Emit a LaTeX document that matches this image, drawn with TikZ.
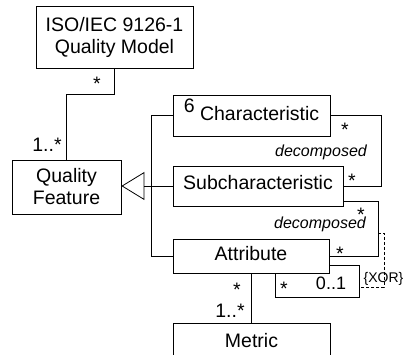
\documentclass[tikz,border=0pt]{standalone}
\usepackage{fontspec}
\setmainfont{Liberation Sans}
\usetikzlibrary{arrows.meta}
\tikzset{
  box/.style={draw, line width=0.8pt, inner sep=0pt, align=center,
    font=\fontsize{19.5}{22}\selectfont},
  mult/.style={anchor=base, inner sep=0pt, font=\fontsize{19.5}{22}\selectfont},
  role/.style={anchor=base, inner sep=0pt, font=\fontsize{16}{18}\selectfont\itshape},
  conn/.style={line width=0.8pt},
  xorline/.style={line width=0.8pt, dash pattern=on 3pt off 2pt}
}
\begin{document}
\begin{tikzpicture}[x=1pt,y=-1pt]
\useasboundingbox (0,0) rectangle (404,355);
% boxes
\node[box, minimum width=157pt, minimum height=62pt] (iso) at (114.5,37) {ISO/IEC 9126-1\\Quality Model};
\node[box, minimum width=109pt, minimum height=54pt] (qf) at (66.5,187) {Quality\\Feature};
\node[box, minimum width=157pt, minimum height=41pt, text height=11pt, text depth=0pt] (char) at (251.5,115.5) {\raisebox{8pt}{6} Characteristic};
\node[box, minimum width=170pt, minimum height=40pt, text height=8pt, text depth=0pt] (sub) at (258,186) {Subcharacteristic};
\node[box, minimum width=156pt, minimum height=34pt, text height=10pt, text depth=0pt] (attr) at (251,256) {Attribute};
\node[box, minimum width=157pt, minimum height=36pt, text height=12pt, text depth=0pt] (metric) at (251.5,341) {Metric};
% connectors
\draw[conn] (iso.south) -- ++(0,26) -| (qf.north);
\draw[conn, -{Triangle[open, length=23pt, width=28pt]}] (sub.west) -- (sub.west -| qf.east);
\draw[conn] (char.west) -- ++(-21,0) |- (attr.west);
\draw[conn] (char.east) -- ++(51,0) |- (sub.east);
\draw[conn] ([yshift=-15pt]sub.east) -- ++(35,0) |- (attr.east);
\draw[conn] ([xshift=24pt]attr.south) -- ++(0,24) -- ++(84,0) |- ([yshift=-9pt]attr.east);
\draw[conn] (attr.south) -- (attr.south |- metric.north);
\coordinate (xa) at (378,233);
\coordinate (xb) at (359,287);
\draw[xorline] (xa) -- ++(6,0) |- (xb);
% multiplicities and labels
\node[mult] (m1) at (97,91) {*};
\node[mult] (m2) at (47,152) {1..*};
\node[mult] (m3) at (345,137) {*};
\node[mult] (m4) at (352,188) {*};
\node[mult] (m5) at (361,222) {*};
\node[mult] (m6) at (340,261) {*};
\node[mult] (m7) at (284,295) {*};
\node[mult, font=\fontsize{18}{20}\selectfont] (m8) at (331,290) {0..1};
\node[mult] (m9) at (237,296) {*};
\node[mult] (m10) at (230,317) {1..*};
\node[role] (d1) at (321,157) {decomposed};
\node[role] (d2) at (320,229) {decomposed};
\node[anchor=base west, inner sep=0pt, font=\fontsize{14}{16}\selectfont] (xor) at (363.5,282) {\{XOR\}};
\end{tikzpicture}
\end{document}
